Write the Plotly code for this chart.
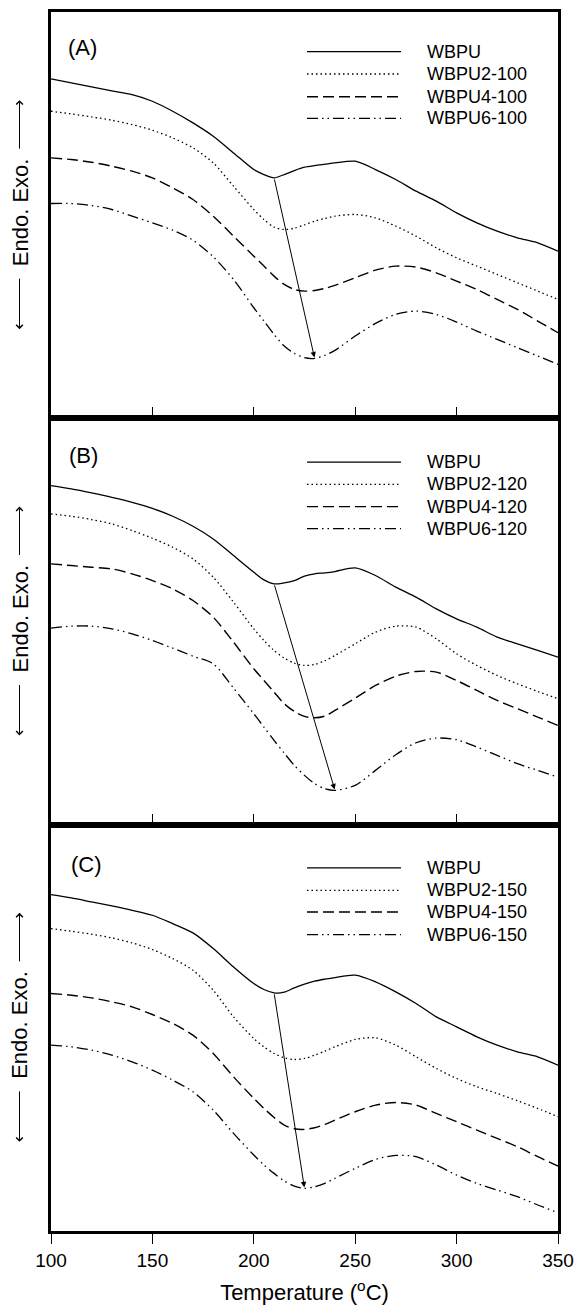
import numpy as np
import plotly.graph_objects as go

# ---------------- data (arbitrary heat-flow units) ----------------
temperature = [100, 110, 120, 130, 140, 150, 160, 170, 180, 190, 200, 205, 210, 215, 220,
               225, 230, 235, 240, 250, 260, 270, 280, 290, 300, 310, 320, 330, 340, 350]

# Panel (A)
a_wbpu = [101.9, 100.7, 99.5, 98.3, 97.2, 95.2, 92.2, 88.7, 84.7, 79.7, 74.7, 73.2, 72.2, 73.2, 74.4,
          75.4, 75.9, 76.3, 76.7, 77.2, 74.7, 71.7, 68.2, 65.2, 61.7, 58.7, 56.2, 54.2, 52.7, 50.2]
a_wbpu2 = [92.2, 91.4, 90.5, 89.5, 88.2, 86.5, 84.2, 81.2, 76.7, 69.7, 62.7, 59.7, 57.4, 56.7, 57.1,
           58.1, 59.2, 60.0, 60.7, 61.2, 60.2, 57.7, 54.7, 51.2, 48.2, 45.7, 43.2, 40.7, 38.2, 35.7]
a_wbpu4 = [78.2, 77.7, 76.9, 75.7, 74.2, 72.2, 69.2, 65.7, 60.7, 54.7, 48.7, 45.7, 42.7, 40.2, 38.7,
           38.2, 38.4, 39.0, 39.9, 42.2, 44.5, 45.7, 45.4, 43.7, 41.2, 38.7, 35.7, 32.7, 29.2, 25.7]
a_wbpu6 = [64.5, 64.5, 63.9, 62.7, 60.7, 58.7, 56.5, 53.5, 48.5, 41.7, 33.2, 29.2, 25.2, 21.7, 19.5,
           18.2, 18.0, 18.9, 20.4, 24.7, 28.5, 31.2, 32.2, 31.2, 28.9, 26.2, 23.7, 21.2, 18.7, 16.2]

# Panel (B)
b_wbpu = [101.8, 100.8, 99.6, 98.3, 96.8, 95.0, 92.6, 89.6, 85.8, 80.8, 75.8, 73.5, 72.3, 72.6, 73.3,
          74.6, 75.3, 75.6, 76.0, 77.1, 74.8, 71.3, 68.3, 64.8, 61.8, 59.3, 56.3, 54.3, 52.3, 50.3]
b_wbpu2 = [93.3, 92.6, 91.6, 90.3, 88.3, 86.0, 83.3, 79.8, 74.3, 66.8, 58.8, 55.3, 52.3, 50.0, 48.5,
           47.8, 48.1, 49.2, 50.8, 54.3, 57.8, 59.6, 59.3, 55.8, 51.3, 47.8, 44.8, 42.3, 40.0, 37.8]
b_wbpu4 = [78.3, 77.8, 77.3, 76.8, 75.3, 73.3, 70.8, 67.3, 62.3, 54.8, 46.8, 43.3, 39.8, 36.3, 34.0,
           32.5, 32.1, 32.6, 34.3, 38.0, 41.8, 44.6, 46.0, 45.8, 43.3, 40.3, 37.3, 34.8, 32.3, 29.8]
b_wbpu6 = [59.0, 59.6, 59.6, 58.8, 57.3, 55.3, 53.0, 50.6, 48.3, 41.0, 33.3, 29.3, 25.3, 21.5, 17.8,
           14.8, 12.3, 10.8, 10.3, 11.8, 16.3, 21.0, 24.6, 26.0, 25.5, 23.3, 20.8, 18.3, 16.3, 14.3]

# Panel (C)
c_wbpu = [101.0, 100.0, 98.8, 97.6, 96.3, 94.8, 92.3, 89.5, 84.8, 79.3, 74.3, 72.5, 71.5, 71.7, 73.0,
          74.1, 75.0, 75.6, 76.1, 76.8, 74.8, 71.8, 68.3, 64.3, 61.3, 58.3, 55.8, 53.8, 52.3, 49.8]
c_wbpu2 = [90.8, 90.0, 89.1, 88.0, 86.5, 84.5, 81.8, 78.3, 72.3, 64.3, 57.8, 55.3, 53.3, 52.0, 51.5,
           51.8, 52.8, 54.0, 55.3, 57.5, 58.0, 55.8, 52.3, 48.8, 45.8, 43.3, 41.3, 39.1, 36.8, 34.3]
c_wbpu4 = [71.3, 70.8, 70.0, 68.8, 67.3, 65.0, 62.3, 58.8, 53.3, 46.3, 39.8, 36.8, 34.1, 31.8, 30.7,
           30.5, 31.0, 32.0, 33.3, 35.8, 37.8, 38.6, 37.8, 35.3, 32.8, 30.3, 27.8, 25.3, 22.3, 19.5]
c_wbpu6 = [55.8, 55.3, 54.3, 52.8, 50.8, 48.3, 45.3, 41.8, 36.3, 29.3, 22.8, 19.8, 17.3, 15.0, 13.5,
           12.8, 13.3, 14.3, 15.8, 18.8, 21.5, 22.7, 22.3, 19.8, 16.8, 14.3, 12.3, 10.3, 7.8, 5.5]

labels_a = ["WBPU", "WBPU2-100", "WBPU4-100", "WBPU6-100"]
labels_b = ["WBPU", "WBPU2-120", "WBPU4-120", "WBPU6-120"]
labels_c = ["WBPU", "WBPU2-150", "WBPU4-150", "WBPU6-150"]
panel_tags = ["(A)", "(B)", "(C)"]
x_ticks = [100, 150, 200, 250, 300, 350]

# ---------------- layout geometry ----------------
W, H = 579, 1305
ML, MR, MT, MB = 51, 21, 12, 74
PW = W - ML - MR
PH = H - MT - MB
FONT = "Liberation Sans, Arial, Helvetica, sans-serif"

def px_x(px):
    return (px - ML) / PW

def px_y(py):
    return (H - MB - py) / PH

styles = [
    dict(color="black", width=1.3, dash="solid"),
    dict(color="black", width=1.3, dash="1.5px,3px"),
    dict(color="black", width=1.4, dash="11px,5px"),
    dict(color="black", width=1.3, dash="11px,4px,1.5px,4px,1.5px,4px"),
]

panels = [
    dict(series=[a_wbpu, a_wbpu2, a_wbpu4, a_wbpu6], labels=labels_a,
         leg_rows=[39.7, 62.0, 84.7, 106.3], tag_xy=(82, 35)),
    dict(series=[b_wbpu, b_wbpu2, b_wbpu4, b_wbpu6], labels=labels_b,
         leg_rows=[43.7, 66.0, 88.3, 110.3], tag_xy=(83, 37)),
    dict(series=[c_wbpu, c_wbpu2, c_wbpu4, c_wbpu6], labels=labels_c,
         leg_rows=[43.3, 65.7, 87.3, 110.0], tag_xy=(86, 40)),
]

fig = go.Figure()
annotations = []
shapes = []
T = np.array(temperature)

for i, p in enumerate(panels):
    n = i + 1
    xa = "x" if n == 1 else f"x{n}"
    ya = "y" if n == 1 else f"y{n}"
    for s, lab, st in zip(p["series"], p["labels"], styles):
        fig.add_trace(go.Scatter(x=temperature, y=s, mode="lines", name=lab,
                                 line=dict(shape="spline", smoothing=0.8, **st),
                                 xaxis=xa, yaxis=ya, showlegend=False, hoverinfo="skip"))

    # arrow from the WBPU minimum to the WBPU6 minimum
    s0 = np.array(p["series"][0]); s3 = np.array(p["series"][3])
    m0 = (T >= 190) & (T <= 240)
    m3 = (T >= 200) & (T <= 260)
    i0 = np.where(m0)[0][np.argmin(s0[m0])]
    i3 = np.where(m3)[0][np.argmin(s3[m3])]
    annotations.append(dict(x=temperature[i3], y=float(s3[i3]), ax=temperature[i0], ay=float(s0[i0]),
                            xref=xa, yref=ya, axref=xa, ayref=ya, text="", showarrow=True,
                            arrowhead=2, arrowsize=1.1, arrowwidth=1, arrowcolor="black", standoff=1))

    # panel geometry in pixels
    top_px = MT + i * PH / 3
    bot_px = MT + (i + 1) * PH / 3
    ctr_px = (top_px + bot_px) / 2

    # panel tag
    annotations.append(dict(x=px_x(p["tag_xy"][0]), y=px_y(top_px + p["tag_xy"][1]),
                            xref="paper", yref="paper", text=panel_tags[i],
                            showarrow=False, font=dict(family=FONT, size=22, color="black"),
                            xanchor="center", yanchor="middle"))

    # legend (manual: long sample lines)
    for off, lab, st in zip(p["leg_rows"], p["labels"], styles):
        yy = px_y(top_px + off)
        shapes.append(dict(type="line", xref="paper", yref="paper",
                           x0=px_x(307), x1=px_x(401), y0=yy, y1=yy,
                           line=dict(color="black", width=st["width"], dash=st["dash"])))
        annotations.append(dict(x=px_x(425), y=yy, xref="paper", yref="paper", text=lab,
                                showarrow=False, xanchor="left", yanchor="middle",
                                font=dict(family=FONT, size=18, color="black")))

    # y-axis title with arrows
    annotations.append(dict(x=px_x(20), y=px_y(ctr_px - 3), xref="paper", yref="paper",
                            text="Endo. Exo.", textangle=-90, showarrow=False,
                            xanchor="center", yanchor="middle",
                            font=dict(family=FONT, size=22, color="black")))
    annotations.append(dict(x=px_x(19.5), y=px_y(ctr_px - 115), xref="paper", yref="paper",
                            text="", showarrow=True, ax=0, ay=50, axref="pixel", ayref="pixel",
                            arrowhead=4, arrowsize=1.3, arrowwidth=1, arrowcolor="black", standoff=0))
    annotations.append(dict(x=px_x(19.5), y=px_y(ctr_px + 114), xref="paper", yref="paper",
                            text="", showarrow=True, ax=0, ay=-52, axref="pixel", ayref="pixel",
                            arrowhead=4, arrowsize=1.3, arrowwidth=1, arrowcolor="black", standoff=0))

    # axes
    d0 = 1 - (i + 1) / 3
    d1 = 1 - i / 3
    last = (n == 3)
    xkey = "xaxis" if n == 1 else f"xaxis{n}"
    ykey = "yaxis" if n == 1 else f"yaxis{n}"
    xdict = dict(domain=[0, 1], anchor=ya, range=[100, 350],
                 tickvals=x_ticks, ticks="outside" if last else "inside",
                 ticklen=10 if last else 11, tickwidth=1.2, tickcolor="black",
                 showticklabels=last, showgrid=False, zeroline=False,
                 showline=True, linewidth=3, linecolor="black", mirror=True,
                 tickfont=dict(family=FONT, size=19, color="black"))
    if last:
        xdict["title"] = dict(text="Temperature (<sup>o</sup>C)",
                              font=dict(family=FONT, size=22, color="black"), standoff=17)
    fig.layout[xkey] = xdict
    fig.layout[ykey] = dict(domain=[d0, d1], anchor=xa, range=[0, 122],
                            showticklabels=False, ticks="", showgrid=False, zeroline=False,
                            showline=True, linewidth=3, linecolor="black", mirror=True)

fig.update_layout(width=W, height=H, margin=dict(l=ML, r=MR, t=MT, b=MB, autoexpand=False),
                  paper_bgcolor="white", plot_bgcolor="white",
                  annotations=annotations, shapes=shapes,
                  font=dict(family=FONT, color="black"))

fig.write_html("out.html", config={"displayModeBar": False},
               post_script="document.body.style.margin='0';document.body.style.overflow='hidden';")
